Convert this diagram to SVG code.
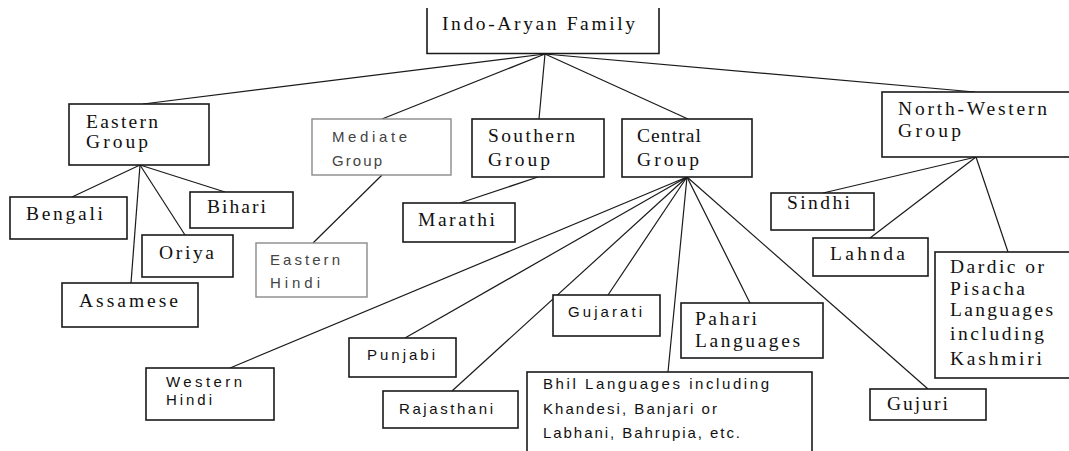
<svg xmlns="http://www.w3.org/2000/svg" width="1069" height="451" viewBox="0 0 1069 451">
<style>
.box{fill:#fff;stroke:#1a1a1a;stroke-width:1.6}
.gbox{fill:#fff;stroke:#8a8a8a;stroke-width:1.4}
.s{font-family:"Liberation Serif","Times New Roman",serif;font-size:19.5px;fill:#111}
.ss{font-family:"Liberation Sans",Arial,sans-serif;font-size:15px;fill:#111}
.g{fill:#444}
#connectors line{stroke:#1a1a1a;stroke-width:1.2}
</style>
<rect width="1069" height="451" fill="#fff"/>
<g id="connectors">
<line x1="545" y1="54" x2="143" y2="104"/>
<line x1="545" y1="54" x2="382" y2="119"/>
<line x1="545" y1="54" x2="539" y2="119"/>
<line x1="545" y1="54" x2="688" y2="119"/>
<line x1="545" y1="54" x2="975" y2="92"/>
<line x1="140" y1="165" x2="72" y2="197"/>
<line x1="140" y1="165" x2="225" y2="192"/>
<line x1="140" y1="165" x2="185" y2="235"/>
<line x1="140" y1="165" x2="131" y2="283"/>
<line x1="382" y1="175" x2="313" y2="243"/>
<line x1="538" y1="177" x2="460" y2="203"/>
<line x1="687" y1="177" x2="230" y2="368"/>
<line x1="687" y1="177" x2="405" y2="338"/>
<line x1="687" y1="177" x2="452" y2="391"/>
<line x1="687" y1="177" x2="608" y2="295"/>
<line x1="687" y1="177" x2="668" y2="372"/>
<line x1="687" y1="177" x2="750" y2="303"/>
<line x1="687" y1="177" x2="928" y2="389"/>
<line x1="976" y1="157" x2="823" y2="193"/>
<line x1="976" y1="157" x2="870" y2="238"/>
<line x1="976" y1="157" x2="1008" y2="252"/>
</g>
<g id="root"><path class="box" d="M427,8 V53.5 H659 V8"/><text class="s" x="442" y="30" textLength="193" lengthAdjust="spacing">Indo-Aryan Family</text></g>
<g id="eastern"><rect class="box" x="69" y="104" width="140" height="61"/><text class="s" x="86" y="128" textLength="72" lengthAdjust="spacing">Eastern</text><text class="s" x="86" y="148" textLength="62" lengthAdjust="spacing">Group</text></g>
<g id="mediate"><rect class="gbox" x="312" y="119" width="139" height="56"/><text class="ss g" x="332" y="142" textLength="75" lengthAdjust="spacing">Mediate</text><text class="ss g" x="332" y="166" textLength="50" lengthAdjust="spacing">Group</text></g>
<g id="southern"><rect class="box" x="472" y="119" width="132" height="58"/><text class="s" x="488" y="142" textLength="87" lengthAdjust="spacing">Southern</text><text class="s" x="488" y="166" textLength="62" lengthAdjust="spacing">Group</text></g>
<g id="central"><rect class="box" x="622" y="119" width="130" height="58"/><text class="s" x="637" y="142" textLength="64" lengthAdjust="spacing">Central</text><text class="s" x="637" y="166" textLength="62" lengthAdjust="spacing">Group</text></g>
<g id="northwestern"><rect class="box" x="882" y="92" width="200" height="65"/><text class="s" x="898" y="115" textLength="149" lengthAdjust="spacing">North-Western</text><text class="s" x="898" y="137" textLength="63" lengthAdjust="spacing">Group</text></g>
<g id="bengali"><rect class="box" x="10" y="197" width="117" height="42"/><text class="s" x="26" y="220" textLength="77" lengthAdjust="spacing">Bengali</text></g>
<g id="bihari"><rect class="box" x="190" y="192" width="103" height="36"/><text class="s" x="207" y="213" textLength="59" lengthAdjust="spacing">Bihari</text></g>
<g id="oriya"><rect class="box" x="142" y="235" width="91" height="42"/><text class="s" x="159" y="259" textLength="55" lengthAdjust="spacing">Oriya</text></g>
<g id="assamese"><rect class="box" x="62" y="283" width="136" height="44"/><text class="s" x="79" y="307" textLength="99" lengthAdjust="spacing">Assamese</text></g>
<g id="easternhindi"><rect class="gbox" x="256" y="243" width="111" height="54"/><text class="ss g" x="270" y="265" textLength="70" lengthAdjust="spacing">Eastern</text><text class="ss g" x="270" y="288" textLength="50" lengthAdjust="spacing">Hindi</text></g>
<g id="marathi"><rect class="box" x="403" y="203" width="112" height="39"/><text class="s" x="418" y="226" textLength="77" lengthAdjust="spacing">Marathi</text></g>
<g id="westernhindi"><rect class="box" x="146" y="368" width="128" height="52"/><text class="ss" x="166" y="387" textLength="76" lengthAdjust="spacing">Western</text><text class="ss" x="166" y="405" textLength="46" lengthAdjust="spacing">Hindi</text></g>
<g id="punjabi"><rect class="box" x="349" y="338" width="107" height="39"/><text class="ss" x="367" y="360" textLength="68" lengthAdjust="spacing">Punjabi</text></g>
<g id="rajasthani"><rect class="box" x="383" y="391" width="135" height="37"/><text class="ss" x="399" y="414" textLength="94" lengthAdjust="spacing">Rajasthani</text></g>
<g id="gujarati"><rect class="box" x="553" y="295" width="107" height="41"/><text class="ss" x="568" y="317" textLength="74" lengthAdjust="spacing">Gujarati</text></g>
<g id="pahari"><rect class="box" x="681" y="303" width="142" height="55"/><text class="s" x="695" y="325" textLength="62" lengthAdjust="spacing">Pahari</text><text class="s" x="695" y="347" textLength="105" lengthAdjust="spacing">Languages</text></g>
<g id="bhil"><rect class="box" x="527" y="372" width="285" height="90"/><text class="ss" x="543" y="389" textLength="226" lengthAdjust="spacing">Bhil Languages including</text><text class="ss" x="543" y="414" textLength="174" lengthAdjust="spacing">Khandesi, Banjari or</text><text class="ss" x="543" y="438" textLength="197" lengthAdjust="spacing">Labhani, Bahrupia, etc.</text></g>
<g id="gujuri"><rect class="box" x="870" y="389" width="116" height="31"/><text class="s" x="887" y="410" textLength="61" lengthAdjust="spacing">Gujuri</text></g>
<g id="sindhi"><rect class="box" x="771" y="193" width="103" height="37"/><text class="s" x="787" y="209" textLength="63" lengthAdjust="spacing">Sindhi</text></g>
<g id="lahnda"><rect class="box" x="813" y="238" width="115" height="38"/><text class="s" x="830" y="260" textLength="75" lengthAdjust="spacing">Lahnda</text></g>
<g id="dardic"><rect class="box" x="935" y="252" width="150" height="126"/><text class="s" x="950" y="273" textLength="94" lengthAdjust="spacing">Dardic or</text><text class="s" x="950" y="295" textLength="75" lengthAdjust="spacing">Pisacha</text><text class="s" x="950" y="316" textLength="103" lengthAdjust="spacing">Languages</text><text class="s" x="950" y="340" textLength="94" lengthAdjust="spacing">including</text><text class="s" x="950" y="365" textLength="92" lengthAdjust="spacing">Kashmiri</text></g>
</svg>
